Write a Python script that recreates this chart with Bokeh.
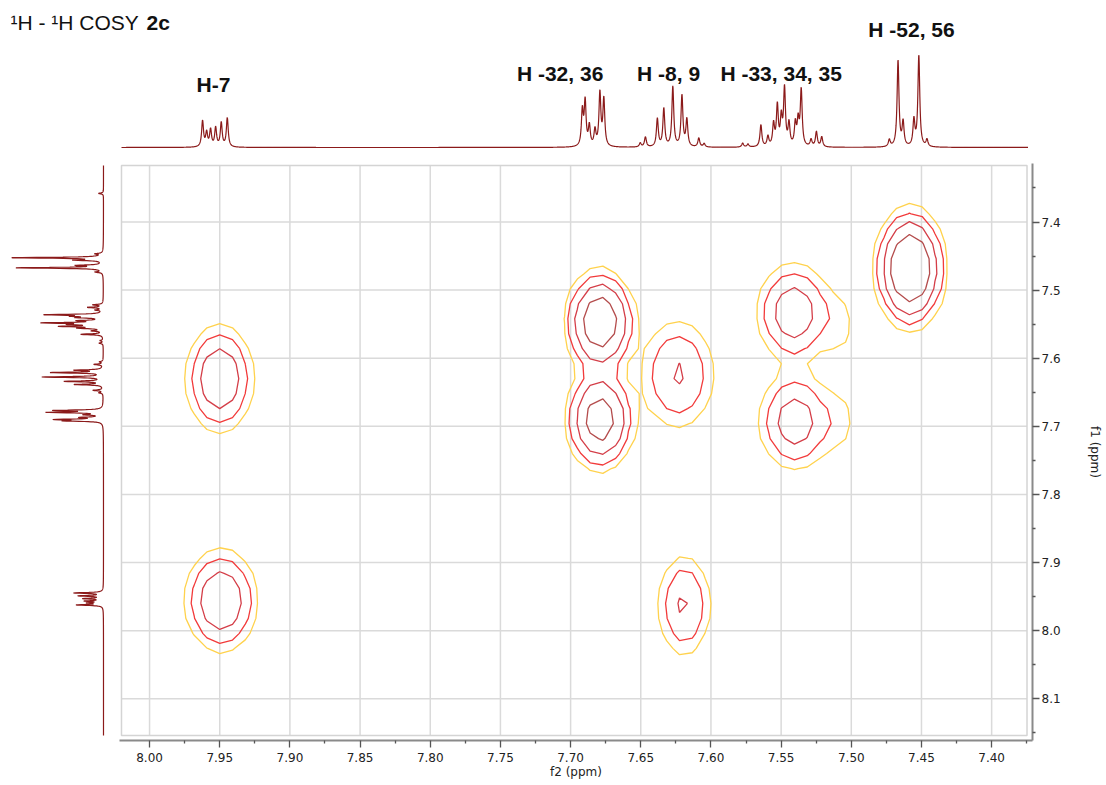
import numpy as np
from bokeh.plotting import figure
from bokeh.layouts import column, row
from bokeh.models import Range1d, FixedTicker, PrintfTickFormatter, Label
from bokeh.core.properties import value
from bokeh.embed import file_html
from bokeh.resources import INLINE

# ---------------- data ----------------
# 1D 1H spectrum: peak positions (ppm) and heights (arbitrary units)
peak_ppm = [7.9623, 7.9594, 7.9566, 7.9530, 7.9490, 7.9447,
            7.6920, 7.6900, 7.6870, 7.6830, 7.6795, 7.6767,
            7.6508, 7.6471, 7.6386, 7.6340, 7.6276, 7.6211, 7.6176, 7.6091, 7.6053,
            7.5779, 7.5741, 7.5649, 7.5599, 7.5559, 7.5532, 7.5504, 7.5481, 7.5449,
            7.5404, 7.5384, 7.5362, 7.5292, 7.5254, 7.5216,
            7.4735, 7.4673, 7.4637, 7.4560, 7.4525, 7.4467,
            7.3580]
peak_height = [26, 14, 17, 19, 24, 29,
               35, 44, 20, 16, 53, 47,
               4, 10, 28, 38, 60, 51, 27, 9, 3.5,
               4, 3, 22, 10, 22, 40, 27, 57, 22,
               22, 24, 56, 7, 15, 10,
               7, 86, 24, 26, 91, 7,
               5]
line_hwhm = 0.0008

# multiplet labels of the 1D trace
label_text = ["H-7", "H -32, 36", "H -8, 9", "H -33, 34, 35", "H -52, 56"]
label_ppm = [7.9545, 7.7078, 7.6306, 7.5505, 7.4577]
label_height = [63, 74, 74, 74, 118]

# 2D COSY peaks: f2 (ppm), f1 (ppm), amplitude, widths (ppm)
cosy_f2 = [7.458, 7.950, 7.949, 7.679, 7.679, 7.6235, 7.619, 7.541, 7.540, 7.508, 7.508]
cosy_f1 = [7.468, 7.630, 7.956, 7.547, 7.690, 7.624, 7.963, 7.533, 7.693, 7.552, 7.692]
cosy_amp = [18, 7.5, 7.5, 14, 12, 4.3, 4.5, 6.5, 6.0, 1.3, 1.3]
cosy_w2 = [0.0107, 0.0119, 0.0128, 0.0111, 0.0111, 0.0146, 0.0103, 0.0135, 0.0135, 0.0080, 0.0080]
cosy_w1 = [0.0385, 0.0392, 0.0377, 0.0345, 0.0345, 0.045, 0.0415, 0.037, 0.037, 0.038, 0.035]
contour_levels = [1, 2, 4, 8]
contour_colors = ["#FFD24D", "#F23B3B", "#D43E48", "#B44C4C"]

x_ticks = [8.00, 7.95, 7.90, 7.85, 7.80, 7.75, 7.70, 7.65, 7.60, 7.55, 7.50, 7.45, 7.40]
x_minor = [7.975, 7.925, 7.875, 7.825, 7.775, 7.725, 7.675, 7.625, 7.575, 7.525, 7.475, 7.425, 7.375]
y_ticks = [7.4, 7.5, 7.6, 7.7, 7.8, 7.9, 8.0, 8.1]
y_minor = [7.35, 7.45, 7.55, 7.65, 7.75, 7.85, 7.95, 8.05, 8.15]

# ---------------- layout constants ----------------
BOX_X = (8.02, 7.3748)     # plotting box (ppm)
BOX_Y = (7.317, 8.154)
LINE_COLOR = "#8B1A1A"
GRID_COLOR = "#DADADA"
DIGITAL_STEP_F2 = 0.0091   # 2D data point spacing (ppm)
DIGITAL_STEP_F1 = 0.022


def spectrum(axis):
    s = np.zeros_like(axis)
    for c, h in zip(peak_ppm, peak_height):
        s += h / (1.0 + ((axis - c) / line_hwhm) ** 2)
    return s


# ---------------- top 1D trace ----------------
p_top = figure(width=1104, height=163, x_range=Range1d(8.10612, 7.32035),
               y_range=Range1d(-16, 147), x_axis_location=None, y_axis_location=None,
               toolbar_location=None, output_backend="svg", min_border=0)
p_top.grid.visible = False
p_top.outline_line_color = None
ax_top = np.linspace(BOX_X[0], BOX_X[1], 4000)
p_top.line(ax_top, spectrum(ax_top), line_color=LINE_COLOR, line_width=1.2)
p_top.text(x=label_ppm, y=label_height, text=label_text, text_font=value("Liberation Sans"),
           text_font_style="bold", text_font_size="21px", text_align="center",
           text_baseline="middle", text_color="#111111")
p_top.add_layout(Label(x=8.0990, y=125, text="\u00b9H - \u00b9H COSY", text_font="Liberation Sans",
                       text_font_size="21px", text_baseline="alphabetic", text_color="#111111"))
p_top.add_layout(Label(x=8.0022, y=125, text="2c", text_font="Liberation Sans",
                       text_font_style="bold", text_font_size="21px", text_baseline="alphabetic",
                       text_color="#111111"))

# ---------------- main COSY plot ----------------
p = figure(width=985, height=620, x_range=Range1d(8.02142, 7.37089),
           y_range=Range1d(8.1613, 7.3141), y_axis_location="right",
           toolbar_location=None, output_backend="svg",
           min_border_left=0, min_border_top=0, min_border_right=71, min_border_bottom=43)
p.grid.visible = False
p.outline_line_color = None

# grid lines and box
p.segment(x0=x_ticks, x1=x_ticks, y0=[BOX_Y[0]] * len(x_ticks), y1=[BOX_Y[1]] * len(x_ticks),
          line_color=GRID_COLOR, line_width=1.5)
p.segment(x0=[BOX_X[0]] * len(y_ticks), x1=[BOX_X[1]] * len(y_ticks), y0=y_ticks, y1=y_ticks,
          line_color=GRID_COLOR, line_width=1.5)
p.quad(left=[BOX_X[0]], right=[BOX_X[1]], top=[BOX_Y[0]], bottom=[BOX_Y[1]],
       fill_color=None, line_color="#D4D4D4", line_width=1.5)

gx = 7.950 + DIGITAL_STEP_F2 * np.arange(-64, 10)
gy = 7.30 + DIGITAL_STEP_F1 * np.arange(0, 41)
GX, GY = np.meshgrid(gx, gy)
Z = np.zeros_like(GX)
for cx, cy, a, sx, sy in zip(cosy_f2, cosy_f1, cosy_amp, cosy_w2, cosy_w1):
    Z += a * np.exp(-0.5 * (((GX - cx) / sx) ** 2 + ((GY - cy) / sy) ** 2))
p.contour(gx, gy, Z, levels=contour_levels, line_color=contour_colors, line_width=1.3)

axis_font = "DejaVu Sans"
for ax in (p.xaxis, p.yaxis):
    ax.axis_line_color = "#8A8A8A"
    ax.axis_line_width = 2
    ax.major_tick_line_color = "#555555"
    ax.minor_tick_line_color = "#555555"
    ax.major_tick_line_width = 1.3
    ax.minor_tick_line_width = 1.3
    ax.major_tick_in = 0
    ax.minor_tick_in = 0
    ax.major_tick_out = 7
    ax.minor_tick_out = 3
    ax.major_label_text_font = axis_font
    ax.major_label_text_font_size = "12px"
    ax.major_label_text_color = "#222222"
    ax.axis_label_text_font = axis_font
    ax.axis_label_text_font_size = "12px"
    ax.axis_label_text_font_style = "normal"
    ax.axis_label_text_color = "#222222"

p.xaxis.ticker = FixedTicker(ticks=x_ticks, minor_ticks=x_minor)
p.xaxis.formatter = PrintfTickFormatter(format="%.2f")
p.xaxis.axis_label = "f2 (ppm)"
p.xaxis.major_label_standoff = 5
p.xaxis.axis_label_standoff = 0

p.yaxis.ticker = FixedTicker(ticks=y_ticks, minor_ticks=y_minor)
p.yaxis.formatter = PrintfTickFormatter(format="%.1f")
p.yaxis.axis_label = "f1 (ppm)"
p.yaxis.major_label_standoff = 2
p.yaxis.axis_label_standoff = 24

# ---------------- left 1D trace ----------------
p_left = figure(width=119, height=620, x_range=Range1d(103, -16), y_range=p.y_range,
                x_axis_location=None, y_axis_location=None, toolbar_location=None,
                output_backend="svg", min_border_left=0, min_border_right=0,
                min_border_top=0, min_border_bottom=43)
p_left.grid.visible = False
p_left.outline_line_color = None
ax_left = np.linspace(BOX_Y[0], BOX_Y[1], 4000)
p_left.line(spectrum(ax_left), ax_left, line_color=LINE_COLOR, line_width=1.2)

layout = column(p_top, row(p_left, p))
open("out.html", "w").write(file_html(layout, INLINE))
